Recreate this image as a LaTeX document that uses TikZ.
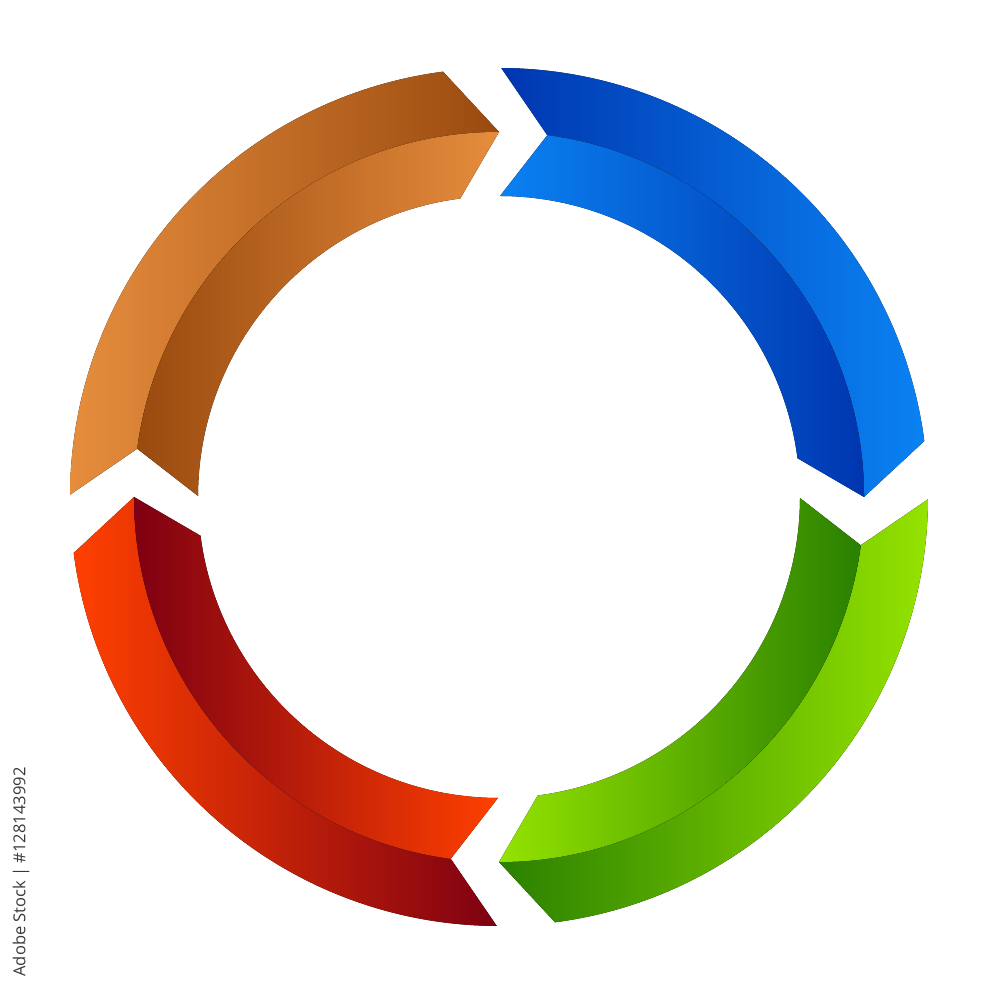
\documentclass[tikz,border=0pt]{standalone}
\usepackage{fontspec}
\setmainfont{Open Sans}
\usepackage{tikz}
\definecolor{orangelight}{HTML}{E68D3D}
\definecolor{orangedark}{HTML}{9A4A0F}
\definecolor{bluedark}{HTML}{0036B0}
\definecolor{bluelight}{HTML}{0A82F2}
\definecolor{greendark}{HTML}{2A8000}
\definecolor{greenlight}{HTML}{94E300}
\definecolor{redlight}{HTML}{FF4000}
\definecolor{reddark}{HTML}{7E0012}
\definecolor{stockgray}{HTML}{3A3A3A}

\begin{document}
\begin{tikzpicture}[
    outerband/.style 2 args={left color=#1, right color=#2},
    innerband/.style 2 args={left color=#2, right color=#1},
    stamp/.style={rotate=90, font=\fontsize{4.7}{5.5}\selectfont, text=stockgray, inner sep=0pt}
]
\useasboundingbox (0,0) rectangle (10,10);

% four ribbon arrows, tail angle / left colour / right colour of the outer half
\begin{scope}[shift={(4.99,5.03)}]
\foreach \a/\ca/\cb in {180/orangelight/orangedark, 90/bluedark/bluelight,
                        0/greendark/greenlight, 270/redlight/reddark} {
    % outer half
    \fill[outerband={\ca}{\cb}] (\a-0.3:4.29) -- (\a-7.6:3.65)
        arc[start angle=\a-7.6, end angle=\a-90, radius=3.65]
        -- (\a-82.5:4.29)
        arc[start angle=\a-82.5, end angle=\a-0.3, radius=4.29] -- cycle;
    % inner half
    \fill[innerband={\ca}{\cb}] (\a-7.6:3.65) -- (\a-0.2:3.01)
        arc[start angle=\a-0.2, end angle=\a-82.6, radius=3.01]
        -- (\a-90:3.65)
        arc[start angle=\a-90, end angle=\a-7.6, radius=3.65] -- cycle;
}
\end{scope}

\node[stamp] (stock) at (0.21,1.28) {Adobe Stock | \#128143992};

\end{tikzpicture}
\end{document}
